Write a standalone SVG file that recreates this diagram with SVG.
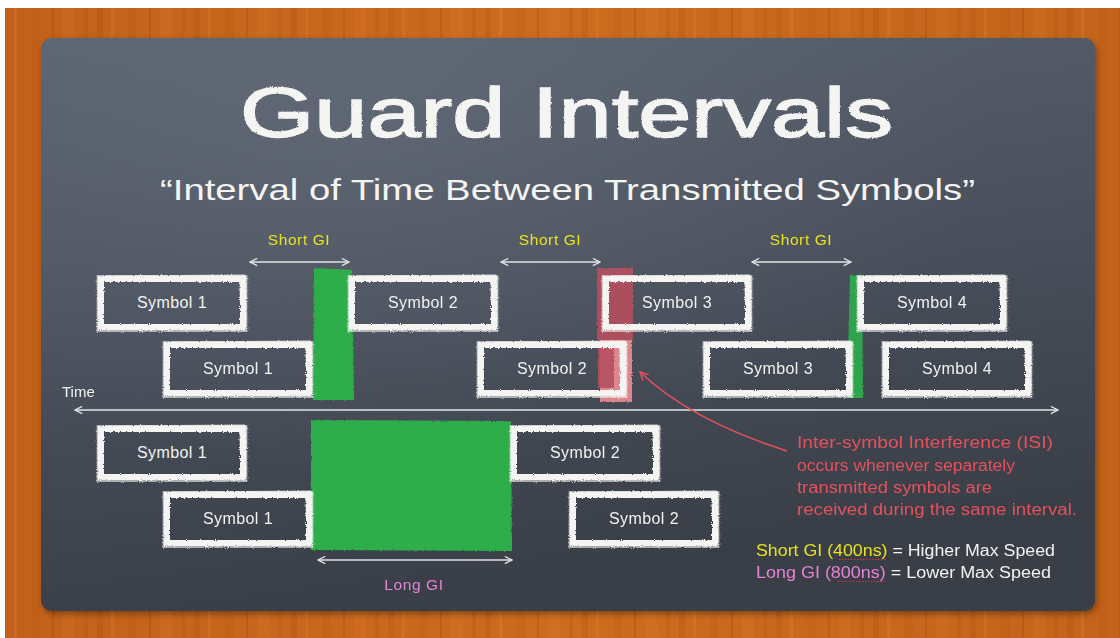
<svg xmlns="http://www.w3.org/2000/svg" width="1120" height="638" viewBox="0 0 1120 638">
<style>
.box{fill:none;stroke:#f4f4f2;stroke-linejoin:miter}
.bx-thick{stroke-width:6}
.bx-thin{stroke-width:1.6;opacity:.75}
.lbl{font-family:"Liberation Sans",Arial,sans-serif;font-size:16px;fill:#f2f2f0;text-anchor:middle;letter-spacing:.4px}
.gi{font-family:"Liberation Sans",Arial,sans-serif;font-size:15.5px;fill:#e8e21c;text-anchor:middle;letter-spacing:.6px}
.long{fill:#e384d4}
.isi{font-family:"Liberation Sans",Arial,sans-serif;font-size:16px;fill:#e6505c}
.spd{font-family:"Liberation Sans",Arial,sans-serif;font-size:16px;fill:#f2f2f0}
.arw{fill:none;stroke:#e2e4e6;stroke-width:1.6}
.grn{fill:#2fae4c}
</style>
<defs>
<linearGradient id="wood" x1="0" y1="0" x2="1" y2="0">
<stop offset="0" stop-color="#c2611a"/>
<stop offset="0.5" stop-color="#cd6c1f"/>
<stop offset="1" stop-color="#c4641b"/>
</linearGradient>
<pattern id="grain" width="97" height="638" patternUnits="userSpaceOnUse">
<rect x="0" y="0" width="6" height="638" fill="#a94f10" opacity=".25"/>
<rect x="14" y="0" width="3" height="638" fill="#e0822e" opacity=".3"/>
<rect x="31" y="0" width="9" height="638" fill="#b3560f" opacity=".2"/>
<rect x="52" y="0" width="2" height="638" fill="#9e4a0e" opacity=".3"/>
<rect x="63" y="0" width="12" height="638" fill="#de7f2c" opacity=".2"/>
<rect x="84" y="0" width="4" height="638" fill="#ab5212" opacity=".25"/>
</pattern>
<linearGradient id="board" x1="0" y1="0" x2="0.25" y2="1">
<stop offset="0" stop-color="#5a626f"/>
<stop offset="0.45" stop-color="#4c535f"/>
<stop offset="1" stop-color="#393e47"/>
</linearGradient>
<radialGradient id="boardhl" cx="0.3" cy="0.15" r="0.6">
<stop offset="0" stop-color="#7a8290" stop-opacity=".3"/>
<stop offset="1" stop-color="#7a8290" stop-opacity="0"/>
</radialGradient>
<filter id="shadow" x="-5%" y="-5%" width="110%" height="110%">
<feGaussianBlur stdDeviation="3"/>
</filter>
<filter id="chalk" x="-5%" y="-10%" width="110%" height="120%">
<feTurbulence type="fractalNoise" baseFrequency="0.9" numOctaves="2" seed="3" result="n"/>
<feDisplacementMap in="SourceGraphic" in2="n" scale="3" xChannelSelector="R" yChannelSelector="G"/>
</filter>
<filter id="chalkT" x="-2%" y="-10%" width="104%" height="120%">
<feTurbulence type="fractalNoise" baseFrequency="1.2" numOctaves="1" seed="5" result="n"/>
<feDisplacementMap in="SourceGraphic" in2="n" scale="2.5" xChannelSelector="R" yChannelSelector="G"/>
</filter>
<marker id="chev" viewBox="0 0 10 10" refX="9" refY="5" markerWidth="9" markerHeight="9" markerUnits="userSpaceOnUse" orient="auto-start-reverse">
<path d="M1,1 L9,5 L1,9" fill="none" stroke="#e2e4e6" stroke-width="1.4"/>
</marker>
<marker id="chevR" viewBox="0 0 10 10" refX="9" refY="5" markerWidth="10" markerHeight="10" markerUnits="userSpaceOnUse" orient="auto-start-reverse">
<path d="M1,1 L9,5 L1,9" fill="none" stroke="#e6505c" stroke-width="1.5"/>
</marker>
<g id="chalkbox">
<rect class="box bx-thick" x="4" y="4" width="142" height="48"/>
<rect class="box bx-thin" x="0.5" y="1" width="149" height="55"/>
<path d="M6,3 L148,2" stroke="#f4f4f2" stroke-width="5" opacity=".8"/>
<path d="M144,4 L146,55" stroke="#f4f4f2" stroke-width="4" opacity=".8"/>
<path d="M2,53 L148,54" stroke="#f4f4f2" stroke-width="3" opacity=".7"/>
</g>
</defs>

<rect x="0" y="0" width="1120" height="638" fill="#ffffff"/>
<rect x="5" y="8" width="1115" height="630" fill="url(#wood)"/>
<rect x="5" y="8" width="1115" height="630" fill="url(#grain)"/>
<rect x="43" y="41" width="1054" height="573" rx="11" fill="#000" opacity=".35" filter="url(#shadow)"/>
<rect x="41" y="38" width="1054" height="573" rx="11" fill="url(#board)"/>
<rect x="41" y="38" width="1054" height="573" rx="11" fill="url(#boardhl)"/>

<g id="title" filter="url(#chalkT)">
<text x="240" y="137" font-family="'Liberation Sans',Arial,sans-serif" font-size="70" fill="#f4f4f2" stroke="#f4f4f2" stroke-width="1.5" textLength="653" lengthAdjust="spacingAndGlyphs">Guard Intervals</text>
</g>
<g id="subtitle">
<text x="160" y="200" font-family="'Liberation Sans',Arial,sans-serif" font-size="30" fill="#f4f4f2" textLength="815" lengthAdjust="spacingAndGlyphs">“Interval of Time Between Transmitted Symbols”</text>
</g>

<g id="guard-bars" filter="url(#chalk)">
<polygon class="grn" points="314,268 352,270 354,400 313,400"/>
<polygon class="grn" points="850,275 862,275 863,398 847,398" opacity=".9"/>
<polygon class="grn" points="311,420 511,421 512,551 311,550"/>
<polygon points="597,268 633,268 633,340 597,340" fill="#b6505e" opacity=".9"/>
<polygon points="600,340 632,340 632,402 600,402" fill="#e98b91" opacity=".92"/>
<polygon points="598,346 614,346 614,388 598,388" fill="#b6505e" opacity=".9"/>
</g>

<g id="sym-a1"><use href="#chalkbox" x="97" y="275" filter="url(#chalk)"/><text class="lbl" x="172" y="308">Symbol 1</text></g>
<g id="sym-a2"><use href="#chalkbox" x="348" y="275" filter="url(#chalk)"/><text class="lbl" x="423" y="308">Symbol 2</text></g>
<g id="sym-a3"><use href="#chalkbox" x="602" y="275" filter="url(#chalk)"/><text class="lbl" x="677" y="308">Symbol 3</text></g>
<g id="sym-a4"><use href="#chalkbox" x="857" y="275" filter="url(#chalk)"/><text class="lbl" x="932" y="308">Symbol 4</text></g>
<g id="sym-b1"><use href="#chalkbox" x="163" y="341" filter="url(#chalk)"/><text class="lbl" x="238" y="374">Symbol 1</text></g>
<g id="sym-b2"><use href="#chalkbox" x="477" y="341" filter="url(#chalk)"/><text class="lbl" x="552" y="374">Symbol 2</text></g>
<g id="sym-b3"><use href="#chalkbox" x="703" y="341" filter="url(#chalk)"/><text class="lbl" x="778" y="374">Symbol 3</text></g>
<g id="sym-b4"><use href="#chalkbox" x="882" y="341" filter="url(#chalk)"/><text class="lbl" x="957" y="374">Symbol 4</text></g>
<g id="sym-c1"><use href="#chalkbox" x="97" y="425" filter="url(#chalk)"/><text class="lbl" x="172" y="458">Symbol 1</text></g>
<g id="sym-c2"><use href="#chalkbox" x="510" y="425" filter="url(#chalk)"/><text class="lbl" x="585" y="458">Symbol 2</text></g>
<g id="sym-d1"><use href="#chalkbox" x="163" y="491" filter="url(#chalk)"/><text class="lbl" x="238" y="524">Symbol 1</text></g>
<g id="sym-d2"><use href="#chalkbox" x="569" y="491" filter="url(#chalk)"/><text class="lbl" x="644" y="524">Symbol 2</text></g>

<g id="connectors">
<line class="arw" x1="75" y1="410" x2="1058" y2="410" marker-start="url(#chev)" marker-end="url(#chev)"/>
<line class="arw" x1="250" y1="262" x2="349" y2="262" marker-start="url(#chev)" marker-end="url(#chev)"/>
<line class="arw" x1="501" y1="262" x2="600" y2="262" marker-start="url(#chev)" marker-end="url(#chev)"/>
<line class="arw" x1="752" y1="262" x2="851" y2="262" marker-start="url(#chev)" marker-end="url(#chev)"/>
<line class="arw" x1="318" y1="560" x2="512" y2="560" marker-start="url(#chev)" marker-end="url(#chev)"/>
<path d="M787,451 Q690,420 640,372" fill="none" stroke="#e6505c" stroke-width="1.6" marker-end="url(#chevR)"/>
</g>

<g id="labels">
<text x="62" y="397" font-family="'Liberation Sans',Arial,sans-serif" font-size="15" fill="#f2f2f0">Time</text>
<text class="gi" x="299" y="245">Short GI</text>
<text class="gi" x="550" y="245">Short GI</text>
<text class="gi" x="801" y="245">Short GI</text>
<text class="gi long" x="414" y="590">Long GI</text>
</g>

<g id="isi-note">
<text class="isi" x="797" y="448" textLength="256" lengthAdjust="spacingAndGlyphs">Inter-symbol Interference (ISI)</text>
<text class="isi" x="797" y="471" textLength="218" lengthAdjust="spacingAndGlyphs">occurs whenever separately</text>
<text class="isi" x="797" y="493" textLength="195" lengthAdjust="spacingAndGlyphs">transmitted symbols are</text>
<text class="isi" x="797" y="515" textLength="280" lengthAdjust="spacingAndGlyphs">received during the same interval.</text>
</g>

<g id="speed-note">
<text class="spd" x="756" y="556" textLength="299" lengthAdjust="spacingAndGlyphs"><tspan fill="#e8e21c">Short GI (400ns)</tspan> = Higher Max Speed</text>
<text class="spd" x="756" y="578" textLength="295" lengthAdjust="spacingAndGlyphs"><tspan fill="#e384d4">Long GI (800ns)</tspan> = Lower Max Speed</text>
<line x1="839" y1="559.5" x2="887" y2="559.5" stroke="#e0303a" stroke-width="1.2" stroke-dasharray="1.5 1.5"/>
<line x1="838" y1="581.5" x2="886" y2="581.5" stroke="#e0303a" stroke-width="1.2" stroke-dasharray="1.5 1.5"/>
</g>
</svg>
